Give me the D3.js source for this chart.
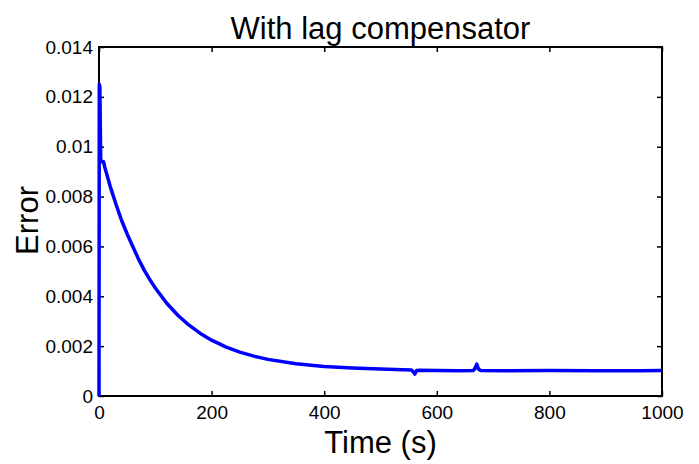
<!DOCTYPE html>
<html>
<head>
<meta charset="utf-8">
<script src="https://cdn.jsdelivr.net/npm/d3@7"></script>
<style>
  body { margin: 0; background: #fff; }
  text { font-family: "Liberation Sans", Arial, sans-serif; fill: #000; }
</style>
</head>
<body>
<div id="chart"></div>
<script>
// Data
const timeValues = [0, 0.5, 1.5, 3, 5, 8, 10, 15, 20, 30, 40, 50, 60, 70, 80, 90, 100,
    120, 140, 160, 180, 200, 225, 250, 275, 300, 350, 400, 450, 500, 540, 555, 558, 561, 564,
    570, 600, 640, 665, 668, 671, 674, 678, 720, 800, 880, 960, 1000];
const errorValues = [0, 0.0125, 0.0124, 0.0095, 0.0094, 0.0094, 0.0092, 0.0088, 0.0084, 0.0077,
    0.00705, 0.0065, 0.006, 0.0055, 0.00506, 0.00468, 0.00433,
    0.00373, 0.00324, 0.00284, 0.00251, 0.00224, 0.00197, 0.00176, 0.0016, 0.00147, 0.00129,
    0.00118, 0.00112, 0.00108, 0.00105, 0.00104, 0.00098, 0.00088, 0.00102,
    0.00103, 0.00102, 0.00101, 0.00102, 0.00112, 0.00128, 0.00108, 0.00102, 0.00101, 0.00102,
    0.00101, 0.00101, 0.00102];
const xTicks = [0, 200, 400, 600, 800, 1000];
const yTicks = [0, 0.002, 0.004, 0.006, 0.008, 0.01, 0.012, 0.014];

const dataset = timeValues.map((t, i) => ({ t: t, e: errorValues[i] }));

// Dimensions
let dimensions = {
    width: 699,
    height: 464,
    margin: { top: 47, right: 37, bottom: 68, left: 99 }
};
dimensions.containerWidth = dimensions.width - dimensions.margin.left - dimensions.margin.right;
dimensions.containerHeight = dimensions.height - dimensions.margin.top - dimensions.margin.bottom;

const svg = d3.select("#chart")
    .append("svg")
    .attr("width", dimensions.width)
    .attr("height", dimensions.height);

const container = svg.append("g")
    .attr("transform", `translate(${dimensions.margin.left}, ${dimensions.margin.top})`);

// Scales
const xScale = d3.scaleLinear()
    .domain([0, 1000])
    .range([0, dimensions.containerWidth]);

const yScale = d3.scaleLinear()
    .domain([0, 0.014])
    .range([dimensions.containerHeight, 0]);

// Axes (ticks pointing inward, mirrored on top/right)
const xAxis = d3.axisBottom(xScale)
    .tickValues(xTicks)
    .tickSize(-5)
    .tickPadding(10)
    .tickFormat(d3.format("d"));

container.append("g")
    .attr("transform", `translate(0, ${dimensions.containerHeight})`)
    .call(xAxis);

const yAxis = d3.axisLeft(yScale)
    .tickValues(yTicks)
    .tickSize(-5)
    .tickPadding(6)
    .tickFormat(d => d === 0 ? "0" : String(+d.toFixed(3)));

container.append("g").call(yAxis);

container.append("g")
    .call(d3.axisTop(xScale).tickValues(xTicks).tickSize(-5).tickFormat(""));
container.append("g")
    .attr("transform", `translate(${dimensions.containerWidth}, 0)`)
    .call(d3.axisRight(yScale).tickValues(yTicks).tickSize(-5).tickFormat(""));

container.selectAll(".domain").attr("stroke", "none");
container.selectAll(".tick line").attr("stroke", "#000").attr("stroke-width", 1.5);
container.selectAll(".tick text")
    .style("font-size", "19px")
    .style("font-family", "Liberation Sans, Arial, sans-serif");

// Box
container.append("rect")
    .attr("x", 0)
    .attr("y", 0)
    .attr("width", dimensions.containerWidth)
    .attr("height", dimensions.containerHeight)
    .attr("fill", "none")
    .attr("stroke", "#000")
    .attr("stroke-width", 2);

// Line
const line = d3.line()
    .x(d => xScale(d.t))
    .y(d => yScale(d.e));

container.append("path")
    .datum(dataset)
    .attr("fill", "none")
    .attr("stroke", "#0000ff")
    .attr("stroke-width", 3.5)
    .attr("stroke-linejoin", "round")
    .attr("d", line);

// Labels
const cx = dimensions.margin.left + dimensions.containerWidth / 2;

svg.append("text")
    .attr("x", cx)
    .attr("y", 39)
    .attr("text-anchor", "middle")
    .style("font-size", "31px")
    .text("With lag compensator");

svg.append("text")
    .attr("x", cx)
    .attr("y", 453)
    .attr("text-anchor", "middle")
    .style("font-size", "31px")
    .text("Time (s)");

svg.append("text")
    .attr("transform", `translate(38, ${dimensions.margin.top + dimensions.containerHeight / 2 - 1}) rotate(-90)`)
    .attr("text-anchor", "middle")
    .style("font-size", "31px")
    .text("Error");
</script>
</body>
</html>
